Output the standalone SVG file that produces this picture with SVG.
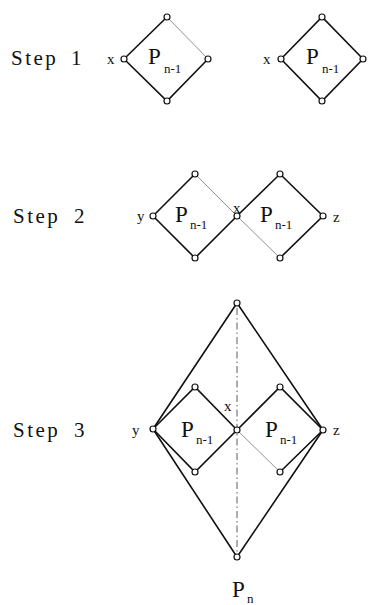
<svg xmlns="http://www.w3.org/2000/svg" width="368" height="605" viewBox="0 0 368 605">
<style>
.e{stroke:#111;stroke-width:1.6;fill:none}
.f{stroke:#777;stroke-width:0.8;fill:none}
.dd{stroke:#333;stroke-width:0.8;fill:none;stroke-dasharray:7 3 1.5 3}
.n{fill:#fff;stroke:#111;stroke-width:1.2}
.step{font-family:"Liberation Serif",serif;font-size:21px;letter-spacing:2.5px;fill:#111}
.v{font-family:"Liberation Serif",serif;font-size:15px;fill:#111}
.p{font-family:"Liberation Serif",serif;font-size:23px;fill:#111}
.s{font-family:"Liberation Serif",serif;font-size:13px;fill:#111}
</style>
<rect width="368" height="605" fill="#fff"/>
<g id="labels">
<text class="step" x="11" y="65">Step <tspan x="71">1</tspan></text>
<text class="step" x="13" y="223">Step <tspan x="74">2</tspan></text>
<text class="step" x="13" y="437">Step <tspan x="74">3</tspan></text>
</g>
<g id="connectors">
<!-- step 1 -->
<path class="e" d="M124,59 L167,17 M124,59 L167,101 L208,59"/>
<path class="f" d="M167,17 L208,59"/>
<path class="e" d="M281,59 L322,17 L363,59 L322,101 Z"/>
<!-- step 2 -->
<path class="e" d="M153,216 L195,174 M153,216 L195,258 L237,216 L280,174 L323,216 L280,258"/>
<path class="f" d="M195,174 L237,216 M237,216 L280,258"/>
<!-- step 3 -->
<path class="e" d="M153,429 L237,303 L323,430 M153,429 L237,557 L323,430"/>
<path class="e" d="M153,429 L195,387 L237,430 L195,472 Z M237,430 L280,387 L323,430 L280,472"/>
<path class="f" d="M237,430 L280,472"/>
<path class="dd" d="M237,308 L237,552"/>
</g>
<g id="step1-left">
<circle class="n" cx="167" cy="17" r="3"/>
<circle class="n" cx="124" cy="59" r="3"/>
<circle class="n" cx="208" cy="59" r="3"/>
<circle class="n" cx="167" cy="101" r="3"/>
<text class="v" x="107" y="64">x</text>
<text class="p" x="148" y="64">P</text><text class="s" x="164" y="73">n-1</text>
</g>
<g id="step1-right">
<circle class="n" cx="322" cy="17" r="3"/>
<circle class="n" cx="281" cy="59" r="3"/>
<circle class="n" cx="363" cy="59" r="3"/>
<circle class="n" cx="322" cy="101" r="3"/>
<text class="v" x="263" y="64">x</text>
<text class="p" x="306" y="64">P</text><text class="s" x="322" y="73">n-1</text>
</g>
<g id="step2-left">
<circle class="n" cx="195" cy="174" r="3"/>
<circle class="n" cx="153" cy="216" r="3"/>
<circle class="n" cx="195" cy="258" r="3"/>
<text class="v" x="137" y="221">y</text>
<text class="p" x="175" y="222">P</text><text class="s" x="190" y="229">n-1</text>
</g>
<g id="step2-x">
<circle class="n" cx="237" cy="216" r="3"/>
<text class="v" x="233" y="213">x</text>
</g>
<g id="step2-right">
<circle class="n" cx="280" cy="174" r="3"/>
<circle class="n" cx="323" cy="216" r="3"/>
<circle class="n" cx="280" cy="258" r="3"/>
<text class="v" x="333" y="222">z</text>
<text class="p" x="260" y="222">P</text><text class="s" x="275" y="229">n-1</text>
</g>
<g id="step3-top"><circle class="n" cx="237" cy="303" r="3"/></g>
<g id="step3-y">
<circle class="n" cx="153" cy="429" r="3"/>
<text class="v" x="132" y="435">y</text>
</g>
<g id="step3-left">
<circle class="n" cx="195" cy="387" r="3"/>
<circle class="n" cx="195" cy="472" r="3"/>
<text class="p" x="181" y="437">P</text><text class="s" x="196" y="444">n-1</text>
</g>
<g id="step3-x">
<circle class="n" cx="237" cy="430" r="3"/>
<text class="v" x="224" y="411">x</text>
</g>
<g id="step3-right">
<circle class="n" cx="280" cy="387" r="3"/>
<circle class="n" cx="280" cy="472" r="3"/>
<text class="p" x="265" y="437">P</text><text class="s" x="280" y="444">n-1</text>
</g>
<g id="step3-z">
<circle class="n" cx="323" cy="430" r="3"/>
<text class="v" x="333" y="435">z</text>
</g>
<g id="step3-bottom">
<circle class="n" cx="237" cy="557" r="3"/>
<text class="p" x="232" y="597">P</text><text class="s" x="247" y="603">n</text>
</g>
</svg>
